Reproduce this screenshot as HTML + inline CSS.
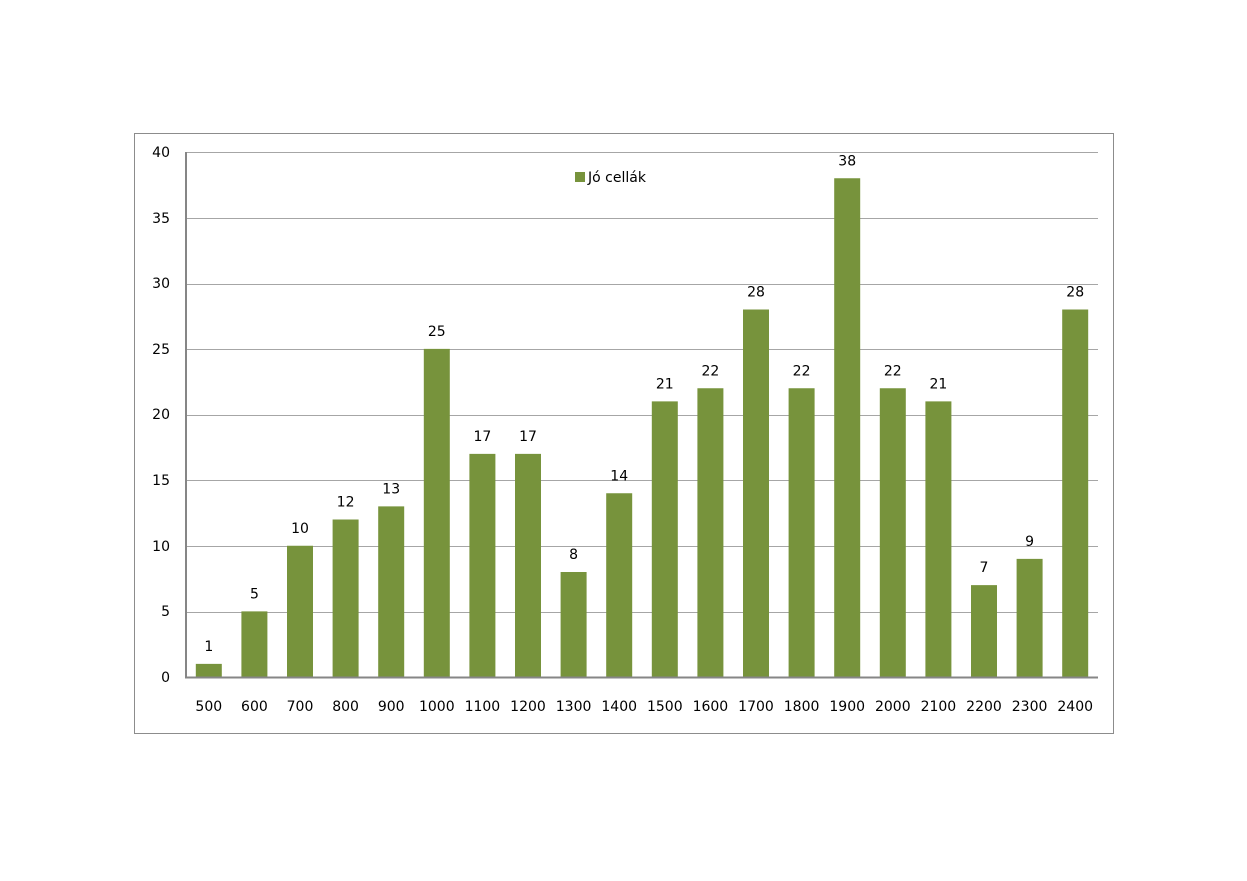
<!DOCTYPE html>
<html><head><meta charset="utf-8"><style>
html,body{margin:0;padding:0;background:#fff;}
svg{display:block;font-family:"DejaVu Sans","Liberation Sans",sans-serif;}
</style></head><body>
<svg width="1247" height="881" viewBox="0 0 1247 881" xmlns="http://www.w3.org/2000/svg">
<rect x="134.5" y="133.5" width="979" height="600" fill="#fff" stroke="#8c8c8c" stroke-width="1"/>
<g stroke="#a6a6a6" stroke-width="1">
<line x1="186" x2="1098" y1="152.5" y2="152.5"/>
<line x1="186" x2="1098" y1="218.5" y2="218.5"/>
<line x1="186" x2="1098" y1="284.5" y2="284.5"/>
<line x1="186" x2="1098" y1="349.5" y2="349.5"/>
<line x1="186" x2="1098" y1="415.5" y2="415.5"/>
<line x1="186" x2="1098" y1="480.5" y2="480.5"/>
<line x1="186" x2="1098" y1="546.5" y2="546.5"/>
<line x1="186" x2="1098" y1="612.5" y2="612.5"/>
</g>
<g font-size="14" fill="#000" text-anchor="end">
<text x="170" y="157">40</text><text x="170" y="223">35</text><text x="170" y="288">30</text>
<text x="170" y="354">25</text><text x="170" y="419">20</text><text x="170" y="485">15</text>
<text x="170" y="551">10</text><text x="170" y="616">5</text><text x="170" y="682">0</text>
</g>
<g id="bars" fill="#77933c"></g>
<g id="lbl" font-size="14" fill="#000" text-anchor="middle"></g>
<line x1="186" x2="186" y1="152" y2="678" stroke="#868686" stroke-width="2"/>
<line x1="185" x2="1098" y1="677.5" y2="677.5" stroke="#868686" stroke-width="2"/>
<rect x="575" y="172" width="10" height="10" fill="#77933c"/>
<text x="588" y="182" font-size="14" fill="#000">Jó cellák</text>
<script>
var v=[1,5,10,12,13,25,17,17,8,14,21,22,28,22,38,22,21,7,9,28];
var b=document.getElementById('bars'),l=document.getElementById('lbl'),ns='http://www.w3.org/2000/svg';
for(var i=0;i<20;i++){var c=186+45.6*(i+0.5),h=v[i]*13.125,y=677-h;
var r=document.createElementNS(ns,'rect');r.setAttribute('x',c-13);r.setAttribute('y',y);r.setAttribute('width',26);r.setAttribute('height',h);b.appendChild(r);
var t=document.createElementNS(ns,'text');t.setAttribute('x',c);t.setAttribute('y',y-13);t.textContent=v[i];l.appendChild(t);
var t2=document.createElementNS(ns,'text');t2.setAttribute('x',c);t2.setAttribute('y',711);t2.textContent=500+100*i;l.appendChild(t2);}
</script>
</svg>
</body></html>
